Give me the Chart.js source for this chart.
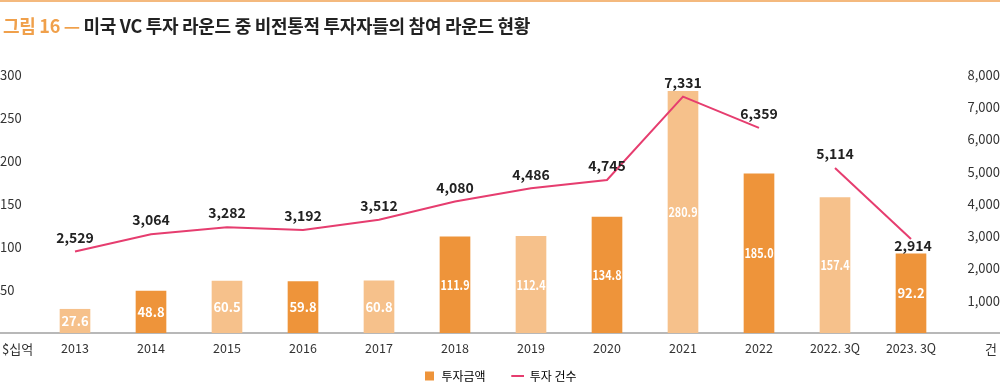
<!DOCTYPE html>
<html><head><meta charset="utf-8">
<script src="https://cdn.jsdelivr.net/npm/chart.js@4"></script>
<style>
html,body{margin:0;padding:0;background:#fff;}
#wrap{position:relative;width:1000px;height:384px;overflow:hidden;}
#topline{position:absolute;left:0;top:0;width:1000px;height:2px;background:#F4B97E;}
#title{position:absolute;left:3px;top:12px;font-family:'Noto Sans CJK KR';font-weight:700;font-size:18px;color:#222;white-space:nowrap;letter-spacing:-0.3px;}
#title span{color:#F0A04B;}
canvas{position:absolute;left:0;top:0;}
</style></head><body>
<div id="wrap"><canvas id="c" width="1000" height="384"></canvas><div id="topline"></div><div id="title"><span>그림 16 —</span> 미국 VC 투자 라운드 중 비전통적 투자자들의 참여 라운드 현황</div></div>
<script>
const categories = ['2013','2014','2015','2016','2017','2018','2019','2020','2021','2022','2022. 3Q','2023. 3Q'];
const amounts = [27.6, 48.8, 60.5, 59.8, 60.8, 111.9, 112.4, 134.8, 280.9, 185.0, 157.4, 92.2];
const counts = [2529, 3064, 3282, 3192, 3512, 4080, 4486, 4745, 7331, 6359, 5114, 2914];
const leftTicks = [50, 100, 150, 200, 250, 300];
const rightTicks = [1000, 2000, 3000, 4000, 5000, 6000, 7000, 8000];
const seriesNames = ['투자금액', '투자 건수'];
const unitLeft = '$십억';
const unitRight = '건';

const FONT = "'Noto Sans CJK KR', 'Noto Sans', sans-serif";
const LIGHT = '#F6C18B', DARK = '#EE943A', PINK = '#E63D6F';
const barColors = amounts.map((v, i) => i % 2 === 0 ? LIGHT : DARK);
const LEGEND_PAD = 26;

const labelPlugin = {
  id: 'labels',
  afterLayout(chart) {
    const l = chart.legend;
    if (!l) return;
    const h = l.height;
    l.top = 376 - LEGEND_PAD - 6;
    l.bottom = l.top + h;
  },
  beforeDatasetsDraw(chart) {
    const ctx = chart.ctx, y = chart.scales.y;
    const py = y.getPixelForValue(0);
    ctx.save();
    ctx.strokeStyle = '#A0A0A0';
    ctx.lineWidth = 1.5;
    ctx.beginPath(); ctx.moveTo(0, py); ctx.lineTo(chart.width, py); ctx.stroke();
    ctx.restore();
  },
  afterDatasetsDraw(chart) {
    const ctx = chart.ctx;
    ctx.save();
    const barMeta = chart.getDatasetMeta(0);
    ctx.font = "bold 13px " + FONT;
    ctx.fillStyle = '#fff';
    ctx.textAlign = 'center';
    ctx.textBaseline = 'middle';
    barMeta.data.forEach((b, i) => {
      const txt = amounts[i].toFixed(1);
      const w = ctx.measureText(txt).width;
      const maxW = 29;
      const sx = w > maxW ? maxW / w : 1;
      ctx.save();
      ctx.translate(b.x, (b.y + b.base) / 2);
      ctx.scale(sx, 1);
      ctx.fillText(txt, 0, 0);
      ctx.restore();
    });
    const lineMeta = chart.getDatasetMeta(1);
    ctx.font = "bold 14px " + FONT;
    ctx.fillStyle = '#222';
    lineMeta.data.forEach((p, i) => {
      const txt = counts[i].toLocaleString('en-US');
      ctx.textBaseline = 'middle';
      if (i === counts.length - 1) {
        ctx.fillText(txt, p.x + 2, p.y + 7);
      } else {
        ctx.fillText(txt, p.x, p.y - 14);
      }
    });
    ctx.font = "13px " + FONT;
    ctx.fillStyle = '#333';
    const ty = chart.scales.y.getPixelForValue(0) + 16;
    ctx.textAlign = 'left';
    ctx.fillText(unitLeft, 2, ty);
    ctx.textAlign = 'right';
    ctx.fillText(unitRight, 997, ty);
    ctx.restore();
  }
};

new Chart(document.getElementById('c'), {
  data: {
    labels: categories,
    datasets: [
      { type: 'bar', label: seriesNames[0], data: amounts, backgroundColor: barColors, yAxisID: 'y', order: 2, barThickness: 30 },
      { type: 'line', label: seriesNames[1], data: counts, borderColor: PINK, borderWidth: 2, pointRadius: 0, tension: 0, yAxisID: 'y2', order: 1,
        segment: { borderColor: c => c.p0DataIndex === 9 ? 'rgba(0,0,0,0)' : PINK } }
    ]
  },
  options: {
    responsive: false, animation: false, devicePixelRatio: 1,
    layout: { padding: { top: 75, left: 0, right: 0, bottom: -21 } },
    plugins: {
      tooltip: { enabled: false },
      legend: {
        position: 'bottom',
        labels: {
          usePointStyle: true, boxHeight: 9, padding: LEGEND_PAD,
          font: { family: FONT, size: 12 }, color: '#333',
          generateLabels: () => [
            { text: seriesNames[0], fillStyle: DARK, strokeStyle: DARK, lineWidth: 0, pointStyle: 'rect', datasetIndex: 0 },
            { text: seriesNames[1], fillStyle: PINK, strokeStyle: PINK, lineWidth: 2, pointStyle: 'line', datasetIndex: 1 }
          ]
        }
      }
    },
    scales: {
      x: {
        afterFit: s => { s.height = 24; },
        grid: { display: false }, border: { display: false },
        ticks: { font: { family: FONT, size: 12.5 }, color: '#333', padding: 0, maxRotation: 0, autoSkip: false }
      },
      y: {
        position: 'left', min: 0, max: 300,
        afterBuildTicks: s => { s.ticks = [0].concat(leftTicks).map(v => ({ value: v })); },
        afterFit: s => { s.width = 37; },
        grid: { display: false }, border: { display: false },
        ticks: { font: { family: FONT, size: 13 }, color: '#333', crossAlign: 'far', padding: 0,
          callback: v => v === 0 ? '' : String(v) }
      },
      y2: {
        position: 'right', min: 0, max: 8000,
        afterBuildTicks: s => { s.ticks = [0].concat(rightTicks).map(v => ({ value: v })); },
        afterFit: s => { s.width = 51; },
        grid: { display: false }, border: { display: false },
        ticks: { font: { family: FONT, size: 13 }, color: '#333', crossAlign: 'far', padding: 0,
          callback: v => v === 0 ? '' : v.toLocaleString('en-US') }
      }
    }
  },
  plugins: [labelPlugin]
});
</script>
</body></html>
